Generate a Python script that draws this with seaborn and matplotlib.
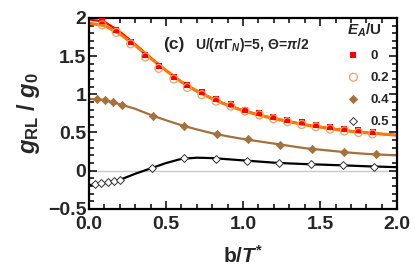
import numpy as np
import pandas as pd
import seaborn as sns
import matplotlib.pyplot as plt
from matplotlib.ticker import MultipleLocator

# symbols (b/T*, g_RL/g0)
x_sq = [0.085, 0.177, 0.27, 0.366, 0.453, 0.55, 0.638, 0.732, 0.825, 0.92,
        1.013, 1.106, 1.197, 1.288, 1.381, 1.472, 1.565, 1.658, 1.749, 1.84]
y_ea0 = [1.96, 1.84, 1.69, 1.52, 1.365, 1.23, 1.12, 1.025, 0.94, 0.87,
         0.80, 0.755, 0.70, 0.665, 0.635, 0.60, 0.57, 0.545, 0.527, 0.506]
y_ea02 = [1.91, 1.81, 1.66, 1.49, 1.34, 1.20, 1.09, 0.995, 0.91, 0.845,
          0.78, 0.73, 0.68, 0.64, 0.605, 0.575, 0.545, 0.52, 0.50, 0.48]

x_d04 = [0.05, 0.104, 0.158, 0.212, 0.414, 0.619, 0.829, 1.034, 1.24, 1.446, 1.656, 1.864]
y_d04 = [0.936, 0.92, 0.894, 0.864, 0.72, 0.585, 0.48, 0.41, 0.33, 0.285, 0.24, 0.22]

x_d05 = [0.04, 0.08, 0.12, 0.16, 0.2, 0.411, 0.616, 0.822, 1.028, 1.236, 1.44, 1.647, 1.852]
y_d05 = [-0.17, -0.16, -0.15, -0.14, -0.12, 0.04, 0.163, 0.155, 0.132, 0.098, 0.085, 0.072, 0.054]

# theory curves
x_line = [0.0, 0.1, 0.2, 0.3, 0.4, 0.5, 0.6, 0.7, 0.8, 0.9, 1.0,
          1.1, 1.2, 1.3, 1.4, 1.5, 1.6, 1.7, 1.8, 1.9, 2.0]
line_ea0 = [1.98, 1.95, 1.82, 1.655, 1.48, 1.315, 1.165, 1.045, 0.945, 0.86, 0.79,
            0.735, 0.685, 0.645, 0.605, 0.575, 0.545, 0.52, 0.50, 0.48, 0.465]
line_ea02 = [1.93, 1.90, 1.79, 1.64, 1.47, 1.31, 1.16, 1.04, 0.94, 0.855, 0.785,
             0.73, 0.68, 0.64, 0.60, 0.57, 0.54, 0.515, 0.495, 0.48, 0.465]
line_ea04 = [0.94, 0.925, 0.87, 0.81, 0.73, 0.66, 0.595, 0.54, 0.49, 0.45, 0.415,
             0.385, 0.355, 0.325, 0.295, 0.275, 0.255, 0.235, 0.22, 0.21, 0.20]
line_ea05 = [-0.19, -0.165, -0.12, -0.04, 0.03, 0.10, 0.155, 0.17, 0.165, 0.15, 0.135,
             0.12, 0.105, 0.095, 0.087, 0.08, 0.073, 0.066, 0.058, 0.052, 0.046]

sns.set_style('ticks')
plt.rcParams['font.family'] = ['Liberation Sans', 'DejaVu Sans']
plt.rcParams['font.weight'] = 'bold'
plt.rcParams['mathtext.fontset'] = 'custom'
plt.rcParams['mathtext.rm'] = 'Liberation Sans:bold'
plt.rcParams['mathtext.it'] = 'Liberation Sans:italic:bold'
plt.rcParams['mathtext.bf'] = 'Liberation Sans:bold'

c_red = '#ff0000'
c_orange = '#ff7a00'
c_circ = '#f4a060'
c_brown = '#a5703a'

fig = plt.figure(figsize=(4.15, 2.8), dpi=100)
ax = fig.add_axes([0.2145, 0.254, 0.7425, 0.682])

ax.axhline(0, color='#c8c8c8', lw=1, zorder=0)

sns.lineplot(x=x_line, y=line_ea0, color=c_red, lw=1.6, ax=ax)
sns.lineplot(x=x_line, y=line_ea02, color=c_orange, lw=2.2, ax=ax)
sns.lineplot(x=x_line, y=line_ea04, color=c_brown, lw=1.6, ax=ax)
sns.lineplot(x=x_line, y=line_ea05, color='black', lw=1.6, ax=ax)

sns.scatterplot(x=x_sq, y=y_ea0, marker='s', s=24, color=c_red, edgecolor=c_red,
                linewidth=0, label='0', ax=ax, zorder=3)
ax.scatter(x_sq, y_ea02, marker='o', s=32, facecolors='none', edgecolors=c_circ,
           linewidths=0.9, label='0.2', zorder=3)
sns.scatterplot(x=x_d04, y=y_d04, marker='D', s=18, color=c_brown, edgecolor=c_brown,
                linewidth=0.5, label='0.4', ax=ax, zorder=3)
ax.scatter(x_d05, y_d05, marker='D', s=16, facecolors='white', edgecolors='#333333',
           linewidths=0.7, label='0.5', zorder=3)

ax.set_xlim(0, 2)
ax.set_ylim(-0.5, 2)
ax.xaxis.set_major_locator(MultipleLocator(0.5))
ax.xaxis.set_minor_locator(MultipleLocator(0.1))
ax.yaxis.set_major_locator(MultipleLocator(0.5))
ax.yaxis.set_minor_locator(MultipleLocator(0.1))
ax.xaxis.set_major_formatter(plt.FuncFormatter(lambda v, p: f'{v:.1f}'))
ax.yaxis.set_major_formatter(plt.FuncFormatter(lambda v, p: f'{v:g}'.replace('-', '\u2212')))
ax.tick_params(which='both', direction='in', top=True, right=True, width=1.3,
               labelsize=14)
ax.tick_params(axis='y', pad=2)
ax.tick_params(axis='x', pad=5)
ax.tick_params(which='major', length=6)
ax.tick_params(which='minor', length=3.5)
for s in ax.spines.values():
    s.set_linewidth(1.6)
    s.set_color('black')
for lab in ax.get_xticklabels() + ax.get_yticklabels():
    lab.set_fontweight('bold')

ax.set_xlabel(r'b/$T^{*}$', fontsize=15, fontweight='bold', labelpad=9)
ax.set_ylabel(r'$g_{\rm RL}$ / $g_0$', fontsize=17, fontweight='bold', labelpad=4)

ax.text(0.55, 1.65, '(c)', fontsize=12.5, fontweight='bold', ha='center', va='center')
ax.text(0.69, 1.65, r'U/($\pi\Gamma_{N}$)=5, $\Theta$=$\pi$/2', fontsize=10,
        fontweight='bold', ha='left', va='center')

leg = ax.legend(title=r'$E_A$/U', frameon=False, loc='upper right',
                bbox_to_anchor=(1.0, 1.02), fontsize=9.5, title_fontsize=11,
                handletextpad=0.3, labelspacing=0.75, borderaxespad=0.2,
                markerscale=1.0)
for t in leg.get_texts():
    t.set_fontweight('bold')
leg.get_title().set_fontweight('bold')

fig.savefig('out.png', dpi=100)
